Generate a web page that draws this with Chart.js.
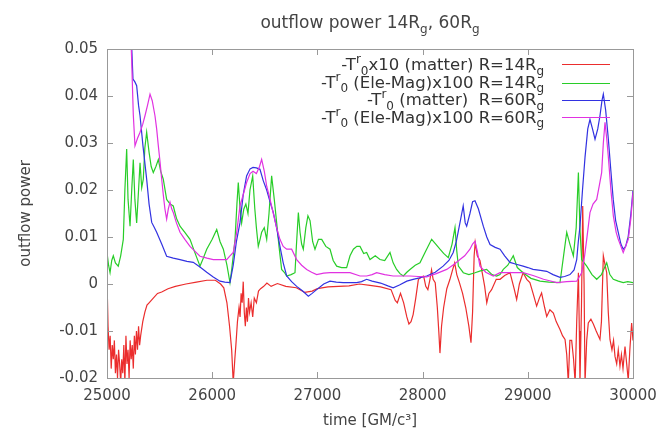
<!DOCTYPE html>
<html>
<head>
<meta charset="utf-8">
<script src="https://cdn.jsdelivr.net/npm/chart.js@4.4.0/dist/chart.umd.min.js"></script>
<style>
  html, body { margin: 0; padding: 0; background: #fff; }
</style>
</head>
<body>
<canvas id="powerChart" width="661" height="434"></canvas>
<script>
// -T^r_0 x10 (matter), R=14Rg
const redTimes = [25000,25010,25020,25030,25040,25050,25060,25070,25080,25090,25100,25110,25120,25130,25140,25150,25160,25170,25180,25190,25200,25210,25220,25230,25240,25250,25260,25270,25280,25290,25300,25310,25320,25340,25360,25380,25400,25440,25480,25520,25580,25650,25750,25850,25950,26030,26080,26110,26140,26165,26185,26200,26215,26225,26240,26255,26265,26275,26285,26295,26305,26315,26325,26335,26345,26355,26370,26385,26400,26420,26440,26460,26490,26520,26560,26620,26700,26800,26880,26950,27000,27100,27200,27300,27400,27500,27600,27700,27740,27760,27790,27820,27850,27870,27890,27910,27935,27960,27990,28010,28030,28050,28070,28085,28100,28120,28140,28155,28165,28180,28200,28230,28260,28285,28305,28325,28350,28380,28410,28440,28460,28475,28490,28500,28520,28545,28570,28590,28610,28630,28656,28700,28736,28780,28831,28870,28894,28920,28955,28990,29020,29050,29084,29110,29131,29160,29180,29210,29243,29270,29306,29330,29354,29370,29385,29400,29417,29435,29450,29465,29481,29490,29496,29510,29522,29535,29544,29560,29575,29600,29623,29650,29686,29700,29718,29735,29750,29765,29781,29800,29815,29829,29845,29860,29876,29890,29905,29924,29940,29955,29970,29987,30000];
const redValues = [0.001,-0.009,-0.014,-0.011,-0.018,-0.013,-0.016,-0.012,-0.019,-0.015,-0.02,-0.014,-0.017,-0.021,-0.016,-0.019,-0.013,-0.021,-0.011,-0.017,-0.014,-0.02,-0.012,-0.016,-0.013,-0.018,-0.011,-0.015,-0.01,-0.014,-0.009,-0.013,-0.011,-0.008,-0.006,-0.0045,-0.004,-0.003,-0.002,-0.0017,-0.001,-0.0005,0,0.0004,0.0008,0.0008,0,-0.0008,-0.004,-0.009,-0.014,-0.021,-0.016,-0.013,-0.008,-0.005,-0.007,-0.002,-0.004,0.0005,-0.006,-0.009,-0.005,-0.008,-0.003,-0.006,-0.004,-0.007,-0.003,-0.004,-0.0015,-0.001,-0.0005,0.0002,-0.0005,0.0001,-0.0005,-0.0008,-0.0018,-0.0015,-0.001,-0.0006,-0.0005,-0.0004,0,-0.0003,-0.0006,-0.0012,-0.0035,-0.004,-0.002,-0.004,-0.007,-0.0085,-0.008,-0.0065,-0.003,0.001,0.0015,0.0017,-0.0005,-0.0012,0.001,0.003,0.001,0.0003,-0.005,-0.0105,-0.0147,-0.009,-0.005,-0.001,0.001,0.003,0.0045,0.002,0.0003,-0.002,-0.005,-0.009,-0.0125,-0.006,0.006,0.0088,0.006,0.005,0.002,-0.0005,-0.004,-0.002,-0.0012,0.001,0.001,0.0018,0.0024,-0.001,-0.0033,0,0.0024,0.001,0.0003,-0.002,-0.0047,-0.003,-0.0019,-0.005,-0.0069,-0.0055,-0.0062,-0.008,-0.0097,-0.011,-0.0118,-0.015,-0.021,-0.012,-0.012,-0.016,-0.021,-0.008,0.0024,-0.01,-0.021,-0.005,0.0166,0,-0.021,-0.012,-0.0083,-0.0075,-0.0085,-0.01,-0.0118,-0.008,0.006,0.004,0.0024,-0.006,-0.0118,-0.014,-0.012,-0.0154,-0.017,-0.014,-0.0175,-0.015,-0.018,-0.0133,-0.017,-0.0205,-0.014,-0.0083,-0.012];

// -T^r_0 (Ele-Mag) x100, R=14Rg
const greenTimes = [25000,25015,25029,25045,25060,25080,25107,25130,25155,25170,25187,25200,25219,25235,25250,25265,25282,25300,25314,25330,25345,25360,25377,25400,25420,25440,25465,25488,25510,25535,25567,25600,25630,25660,25694,25740,25789,25830,25884,25915,25948,26000,26043,26075,26106,26140,26169,26185,26200,26217,26235,26248,26265,26280,26300,26320,26340,26359,26385,26405,26420,26438,26455,26470,26495,26518,26540,26565,26590,26613,26635,26660,26685,26708,26750,26787,26800,26819,26835,26850,26866,26890,26910,26930,26955,26977,27010,27041,27080,27120,27150,27183,27230,27278,27310,27342,27375,27405,27440,27468,27500,27550,27595,27640,27690,27720,27753,27785,27817,27850,27880,27930,27975,28030,28086,28125,28165,28200,28244,28280,28308,28325,28340,28387,28440,28498,28550,28609,28660,28704,28736,28767,28810,28862,28900,28955,29030,29116,29200,29306,29340,29370,29400,29433,29460,29481,29495,29512,29560,29610,29655,29700,29750,29780,29813,29860,29907,29950,30000];
const greenValues = [0.0067,0.004,0.0024,0.005,0.006,0.0045,0.0038,0.006,0.0095,0.02,0.0287,0.018,0.0123,0.02,0.0265,0.018,0.013,0.02,0.0258,0.0205,0.0223,0.029,0.0323,0.028,0.025,0.0237,0.025,0.0265,0.024,0.0223,0.018,0.017,0.0166,0.014,0.0123,0.011,0.0095,0.007,0.0038,0.0055,0.0074,0.0095,0.0116,0.009,0.0074,0.004,0.0003,0.003,0.006,0.0095,0.017,0.0216,0.016,0.013,0.0159,0.017,0.015,0.02,0.023,0.016,0.012,0.008,0.0095,0.011,0.012,0.0095,0.015,0.023,0.018,0.013,0.008,0.0031,0.0025,0.0017,0.002,0.0024,0.008,0.0152,0.011,0.0085,0.0074,0.012,0.0145,0.0135,0.009,0.0074,0.0095,0.0095,0.008,0.0074,0.005,0.0038,0.0035,0.0035,0.006,0.0074,0.008,0.008,0.0065,0.0067,0.0052,0.006,0.0052,0.005,0.0067,0.0045,0.0031,0.0022,0.0017,0.0025,0.0031,0.004,0.0045,0.007,0.0095,0.0085,0.0074,0.0065,0.0056,0.0085,0.012,0.007,0.0038,0.0024,0.002,0.0024,0.0028,0.0031,0.002,0.0017,0.002,0.0031,0.004,0.006,0.0035,0.0024,0.0012,0.0006,0.0004,0.0003,0.006,0.011,0.0085,0.006,0.012,0.0237,0.012,0.0052,0.0038,0.002,0.001,0.002,0.0045,0.002,0.001,0.0006,0.0003,0.0005,0.0003];

// -T^r_0 (matter), R=60Rg
const blueTimes = [25225,25247,25265,25282,25300,25314,25342,25377,25400,25425,25450,25472,25520,25567,25630,25694,25760,25820,25890,25948,26010,26074,26120,26169,26200,26230,26264,26295,26327,26360,26388,26420,26454,26485,26518,26550,26581,26612,26644,26675,26708,26755,26803,26860,26914,26950,26993,27060,27120,27180,27245,27310,27373,27420,27468,27520,27600,27670,27720,27780,27850,27910,27970,28039,28120,28195,28250,28291,28320,28355,28386,28405,28419,28450,28475,28498,28530,28577,28610,28641,28690,28736,28780,28831,28890,28955,29000,29050,29120,29180,29240,29306,29350,29401,29440,29465,29480,29496,29520,29544,29570,29591,29615,29639,29665,29686,29705,29718,29740,29765,29790,29812,29835,29860,29885,29907,29930,29955,29980,30000];
const blueValues = [0.056,0.0436,0.043,0.0422,0.038,0.0358,0.0294,0.0223,0.017,0.0131,0.012,0.011,0.0085,0.0059,0.0055,0.0052,0.0048,0.0046,0.0035,0.0025,0.0015,0.0006,0.0004,0.0003,0.004,0.009,0.013,0.019,0.023,0.0245,0.0248,0.0247,0.0244,0.022,0.02,0.0175,0.0152,0.012,0.008,0.0045,0.0017,0.0005,-0.0005,-0.0015,-0.0026,-0.002,-0.0012,0,0.0006,0.0004,0.0003,0.0003,0.0003,0.0005,0.001,0.0006,0.0002,-0.0004,-0.0008,-0.0002,0.0006,0.001,0.0013,0.0017,0.0025,0.0038,0.005,0.0067,0.009,0.013,0.0166,0.013,0.0123,0.015,0.0175,0.0177,0.016,0.0123,0.01,0.0084,0.0078,0.0074,0.006,0.0046,0.0042,0.0038,0.0035,0.0031,0.0029,0.0027,0.002,0.0014,0.0016,0.002,0.003,0.0052,0.009,0.0123,0.02,0.027,0.033,0.035,0.033,0.0308,0.033,0.0358,0.039,0.0404,0.037,0.031,0.024,0.018,0.0135,0.011,0.0085,0.0074,0.008,0.0102,0.015,0.02];

// -T^r_0 (Ele-Mag) x100, R=60Rg
const magentaTimes = [25215,25234,25250,25266,25290,25314,25340,25361,25385,25409,25430,25456,25472,25488,25504,25520,25535,25551,25567,25583,25599,25615,25630,25660,25694,25740,25789,25835,25884,25950,26010,26075,26138,26169,26200,26233,26264,26295,26327,26360,26388,26420,26450,26470,26495,26518,26550,26581,26612,26644,26675,26708,26755,26803,26850,26898,26945,26993,27060,27120,27210,27310,27405,27468,27520,27563,27640,27720,27800,27880,27960,28039,28130,28229,28300,28355,28400,28450,28475,28498,28520,28545,28600,28672,28736,28850,28955,29050,29150,29275,29370,29465,29512,29540,29560,29591,29620,29655,29680,29702,29718,29734,29750,29765,29790,29813,29840,29860,29885,29907,29930,29955,29980,30000];
const magentaValues = [0.06,0.048,0.036,0.0294,0.031,0.0323,0.034,0.0358,0.038,0.0404,0.039,0.0358,0.033,0.0294,0.026,0.0223,0.019,0.0159,0.0138,0.016,0.0174,0.016,0.0152,0.013,0.011,0.0095,0.008,0.007,0.0059,0.0055,0.0052,0.0052,0.0052,0.006,0.0067,0.011,0.0166,0.019,0.0216,0.0235,0.024,0.0235,0.025,0.0265,0.024,0.0208,0.018,0.015,0.012,0.0095,0.008,0.0074,0.0074,0.0052,0.004,0.0031,0.0025,0.002,0.0023,0.0024,0.0024,0.0024,0.0017,0.0017,0.002,0.0024,0.002,0.0017,0.0017,0.0017,0.0016,0.0015,0.0022,0.0031,0.0042,0.0052,0.006,0.0074,0.0085,0.0091,0.007,0.0038,0.0025,0.0017,0.0024,0.0024,0.0024,0.0018,0.001,0.0003,0.0005,0.0006,0.0024,0.006,0.0095,0.0152,0.017,0.018,0.021,0.0237,0.03,0.0344,0.031,0.0272,0.02,0.0145,0.011,0.0095,0.008,0.0067,0.008,0.0095,0.014,0.0195];

// labels use gnuplot style markup: ^x superscript, _x subscript
const seriesLabels = [
  '-T^r_0x10 (matter) R=14R_g',
  '-T^r_0 (Ele-Mag)x100 R=14R_g',
  '-T^r_0 (matter)  R=60R_g',
  '-T^r_0 (Ele-Mag)x100 R=60R_g'
];
const seriesColors = ['rgb(235,45,45)', 'rgb(40,205,40)', 'rgb(50,50,225)', 'rgb(225,50,225)'];
const chartTitle = 'outflow power 14R_g, 60R_g';

const FONT = '"DejaVu Sans", sans-serif';
const TEXT = '#444';

function toPoints(times, values) {
  return times.map((t, i) => ({ x: t, y: values[i] }));
}

function parseRich(str) {
  const parts = [];
  let buf = '';
  for (let i = 0; i < str.length; i++) {
    const c = str[i];
    if ((c === '^' || c === '_') && i + 1 < str.length) {
      if (buf) { parts.push({ t: buf, k: 0 }); buf = ''; }
      parts.push({ t: str[i + 1], k: c === '^' ? 1 : -1 });
      i++;
    } else {
      buf += c;
    }
  }
  if (buf) parts.push({ t: buf, k: 0 });
  return parts;
}

function drawRich(ctx, str, x, y, align, size) {
  const parts = parseRich(str);
  const small = Math.round(size * 0.7);
  let total = 0;
  parts.forEach(p => {
    ctx.font = (p.k ? small : size) + 'px ' + FONT;
    p.w = ctx.measureText(p.t).width;
    total += p.w;
  });
  let cx = align === 'right' ? x - total : align === 'center' ? x - total / 2 : x;
  ctx.textAlign = 'left';
  ctx.textBaseline = 'alphabetic';
  parts.forEach(p => {
    ctx.font = (p.k ? small : size) + 'px ' + FONT;
    const dy = p.k === 1 ? -size * 0.4 : p.k === -1 ? size * 0.3 : 0;
    ctx.fillText(p.t, cx, y + dy);
    cx += p.w;
  });
}

// gnuplot look: full frame, inward ticks, title and legend with sub/superscripts
const gnuplotFrame = {
  id: 'gnuplotFrame',
  afterDraw(chart) {
    const ctx = chart.ctx;
    const a = chart.chartArea;
    const xs = chart.scales.x, ys = chart.scales.y;
    ctx.save();
    ctx.strokeStyle = '#999';
    ctx.lineWidth = 1;
    ctx.strokeRect(a.left + 0.5, a.top + 0.5, a.right - a.left, a.bottom - a.top);
    ctx.beginPath();
    xs.ticks.forEach(t => {
      const px = Math.round(xs.getPixelForValue(t.value)) + 0.5;
      ctx.moveTo(px, a.bottom); ctx.lineTo(px, a.bottom - 6);
      ctx.moveTo(px, a.top); ctx.lineTo(px, a.top + 6);
    });
    ys.ticks.forEach(t => {
      const py = Math.round(ys.getPixelForValue(t.value)) + 0.5;
      ctx.moveTo(a.left, py); ctx.lineTo(a.left + 6, py);
      ctx.moveTo(a.right, py); ctx.lineTo(a.right - 6, py);
    });
    ctx.stroke();

    ctx.fillStyle = TEXT;
    drawRich(ctx, chartTitle, (a.left + a.right) / 2, 28, 'center', 17);

    const textBase = [70, 87.5, 105, 122.5];
    const lineY = [64, 83, 100, 117];
    seriesLabels.forEach((label, i) => {
      ctx.fillStyle = '#333';
      drawRich(ctx, label, 544, textBase[i], 'right', 16.5);
      ctx.strokeStyle = seriesColors[i];
      ctx.lineWidth = 1.2;
      ctx.beginPath();
      ctx.moveTo(562, lineY[i] + 0.5);
      ctx.lineTo(610, lineY[i] + 0.5);
      ctx.stroke();
    });
    ctx.restore();
  }
};

new Chart(document.getElementById('powerChart'), {
  type: 'line',
  data: {
    datasets: [
      { label: seriesLabels[0], data: toPoints(redTimes, redValues), borderColor: seriesColors[0], order: 4 },
      { label: seriesLabels[1], data: toPoints(greenTimes, greenValues), borderColor: seriesColors[1], order: 3 },
      { label: seriesLabels[2], data: toPoints(blueTimes, blueValues), borderColor: seriesColors[2], order: 2 },
      { label: seriesLabels[3], data: toPoints(magentaTimes, magentaValues), borderColor: seriesColors[3], order: 1 }
    ]
  },
  options: {
    responsive: false,
    animation: false,
    layout: { padding: { top: 49, right: 28, left: 0, bottom: 0 } },
    elements: {
      line: { borderWidth: 1.2, tension: 0 },
      point: { radius: 0 }
    },
    plugins: {
      legend: { display: false },
      title: { display: false },
      tooltip: { enabled: false }
    },
    scales: {
      x: {
        type: 'linear',
        min: 25000,
        max: 30000,
        afterFit: s => { s.height = 56; s.paddingLeft = 0; s.paddingRight = 0; },
        grid: { display: false, drawTicks: false },
        border: { display: false },
        ticks: {
          stepSize: 1000,
          padding: 9,
          color: TEXT,
          font: { family: FONT, size: 15 },
          callback: v => String(v)
        },
        title: {
          display: true,
          text: 'time [GM/c³]',
          color: TEXT,
          font: { family: FONT, size: 15 },
          padding: { top: 0, bottom: 4 }
        }
      },
      y: {
        min: -0.02,
        max: 0.05,
        afterFit: s => { s.width = 107; s.paddingTop = 0; s.paddingBottom = 0; },
        grid: { display: false, drawTicks: false },
        border: { display: false },
        ticks: {
          stepSize: 0.01,
          padding: 9,
          color: TEXT,
          font: { family: FONT, size: 15 }
        },
        title: {
          display: true,
          text: 'outflow power',
          color: TEXT,
          font: { family: FONT, size: 15 },
          padding: { top: 17, bottom: 0 }
        }
      }
    }
  },
  plugins: [gnuplotFrame]
});
</script>
</body>
</html>
